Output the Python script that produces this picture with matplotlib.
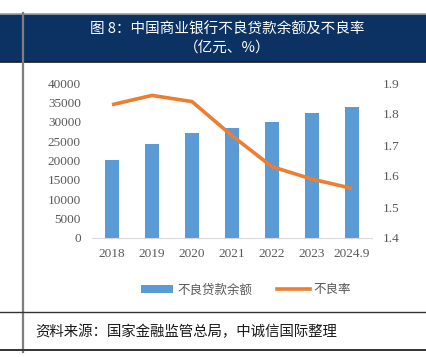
import matplotlib
matplotlib.use("Agg")
import matplotlib.pyplot as plt
from matplotlib.lines import Line2D
from matplotlib.patches import Rectangle, Patch

categories = ["2018", "2019", "2020", "2021", "2022", "2023", "2024.9"]
npl_balance = [20254, 24135, 27015, 28470, 29829, 32256, 33815]
npl_ratio = [1.83, 1.86, 1.84, 1.73, 1.63, 1.59, 1.56]
left_ticks = [0, 5000, 10000, 15000, 20000, 25000, 30000, 35000, 40000]
right_ticks = [1.4, 1.5, 1.6, 1.7, 1.8, 1.9]

W, H = 427, 357
fig = plt.figure(figsize=(W / 100, H / 100), dpi=100)
fig.patch.set_facecolor("white")

def fx(px):
    return px / W

def fy(py):
    return 1 - py / H

cjk = ["Noto Sans CJK SC", "DejaVu Sans"]
serif = ["Liberation Serif", "DejaVu Serif"]
grey = "#595959"

# header band
fig.add_artist(Rectangle((0, fy(62)), 1, fy(14) - fy(62), transform=fig.transFigure,
                         facecolor="#0b3263", edgecolor="none", zorder=0))
fig.add_artist(Line2D([0, 1], [fy(13.5), fy(13.5)], transform=fig.transFigure, color="#a0a0a0", lw=1.2))
fig.add_artist(Line2D([0, 1], [fy(62), fy(62)], transform=fig.transFigure, color="#1a1a1a", lw=1.2))
# vertical line
fig.add_artist(Line2D([fx(23), fx(23)], [fy(13), fy(352)], transform=fig.transFigure, color="#7f7f7f", lw=1.6))
# lower horizontal lines
fig.add_artist(Line2D([0, 1], [fy(312), fy(312)], transform=fig.transFigure, color="#333333", lw=1.0))
fig.add_artist(Line2D([0, 1], [fy(350), fy(350)], transform=fig.transFigure, color="#333333", lw=1.4))

fig.text(fx(227), fy(30), "图 8：中国商业银行不良贷款余额及不良率", ha="center", va="center",
         color="white", fontsize=10.5, family=cjk)
fig.text(fx(227), fy(48), "（亿元、%）", ha="center", va="center",
         color="white", fontsize=10.5, family=cjk)
fig.text(fx(35), fy(332), "资料来源：国家金融监管总局，中诚信国际整理", ha="left", va="center",
         color="#1a1a1a", fontsize=10.4, family=cjk, style="italic")

ax = fig.add_axes([fx(92), fy(238), fx(372) - fx(92), fy(83) - fy(238)])
x = range(len(categories))
ax.bar(x, npl_balance, width=0.33, color="#5b9bd5", zorder=2)
ax.set_ylim(0, 40000)
ax.set_xlim(-0.5, len(categories) - 0.5)
ax.set_yticks(left_ticks)
ax.set_yticklabels([str(t) for t in left_ticks])
ax.set_xticks(list(x))
ax.set_xticklabels(categories)
for s in ["top", "left", "right"]:
    ax.spines[s].set_visible(False)
ax.spines["bottom"].set_color("#d9d9d9")
ax.tick_params(axis="both", length=0, colors=grey, labelsize=9.5)
ax.tick_params(axis="y", pad=8)
ax.tick_params(axis="x", pad=7)
for lab in ax.get_xticklabels() + ax.get_yticklabels():
    lab.set_family(serif)

ax2 = ax.twinx()
ax2.plot(list(x), npl_ratio, color="#ed7d31", lw=2.6, solid_capstyle="butt", zorder=3)
ax2.set_ylim(1.4, 1.9)
ax2.set_yticks(right_ticks)
ax2.set_yticklabels([f"{t:.1f}" for t in right_ticks])
for s in ["top", "left", "right", "bottom"]:
    ax2.spines[s].set_visible(False)
ax2.tick_params(axis="y", length=0, colors=grey, labelsize=9.5, pad=8)
for lab in ax2.get_yticklabels():
    lab.set_family(serif)

handles = [Patch(facecolor="#5b9bd5", edgecolor="none"),
           Line2D([0], [0], color="#ed7d31", lw=2.6)]
leg = fig.legend(handles, ["不良贷款余额", "不良率"], loc="center", bbox_to_anchor=(fx(246), fy(290)),
                 ncol=2, frameon=False, handlelength=2.6, handleheight=0.55, handletextpad=0.3,
                 columnspacing=2.0, prop={"family": cjk, "size": 9})
for t in leg.get_texts():
    t.set_color(grey)

fig.savefig("out.png", dpi=100, facecolor="white")
